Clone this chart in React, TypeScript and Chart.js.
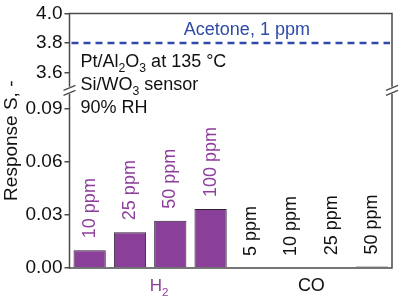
import React, { useEffect, useRef } from "react";
import { Chart, registerables, LinearScale } from "chart.js";

// ---- data ----
const categories = ["10 ppm", "25 ppm", "50 ppm", "100 ppm", "5 ppm", "10 ppm", "25 ppm", "50 ppm"];
const groups = ["H2", "H2", "H2", "H2", "CO", "CO", "CO", "CO"];
const responses = [0.0101, 0.0203, 0.0268, 0.0334, 0.0, 0.0, 0.0004, 0.0008];
const acetoneValue = [3.8];
const yTicks = [0, 0.03, 0.06, 0.09, 3.6, 3.8, 4.0];
const yTickLabels = ["0.00", "0.03", "0.06", "0.09", "3.6", "3.8", "4.0"];
// axis break: lower segment 0..LOW_MAX, upper segment HIGH_MIN..HIGH_MAX
const LOW_MAX = 0.1006;
const HIGH_MIN = 3.48;
const HIGH_MAX = 4.0;
const LOW_FRAC = 180 / 258;

const PURPLE = "#8a3f98";
const PURPLE_TXT = "#8e3f9c";
const BLUE = "#2f4aa8";
const AXIS = "#4a4a4a";
const FONT = "'Liberation Sans', Arial, sans-serif";

function toV(v: number): number {
  if (v <= LOW_MAX) return (v / LOW_MAX) * LOW_FRAC;
  return LOW_FRAC + ((v - HIGH_MIN) / (HIGH_MAX - HIGH_MIN)) * (1 - LOW_FRAC);
}
function fromV(x: number): number {
  if (x <= LOW_FRAC) return (x / LOW_FRAC) * LOW_MAX;
  return HIGH_MIN + ((x - LOW_FRAC) / (1 - LOW_FRAC)) * (HIGH_MAX - HIGH_MIN);
}

class BrokenScale extends LinearScale {
  static id = "broken";
  static defaults = (LinearScale as any).defaults;
  getPixelForValue(value: number) {
    return super.getPixelForValue(toV(value));
  }
  getValueForPixel(pixel: number) {
    return fromV(super.getValueForPixel(pixel) as number);
  }
}

Chart.register(...registerables, BrokenScale as any);

type Seg = { t: string; sub?: boolean };
function drawRich(ctx: CanvasRenderingContext2D, segs: Seg[], x: number, y: number, size: number, align: "left" | "center" = "left") {
  const measure = (s: Seg) => {
    ctx.font = `${s.sub ? size * 0.68 : size}px ${FONT}`;
    return ctx.measureText(s.t).width;
  };
  let total = 0;
  segs.forEach((s) => (total += measure(s)));
  let cx = align === "center" ? x - total / 2 : x;
  ctx.textAlign = "left";
  ctx.textBaseline = "alphabetic";
  segs.forEach((s) => {
    const w = measure(s);
    ctx.fillText(s.t, cx, s.sub ? y + size * 0.28 : y);
    cx += w;
  });
}

const framePlugin = {
  id: "frame",
  afterDraw(chart: any) {
    const { ctx, chartArea } = chart;
    const y = chart.scales.y;
    const x = chart.scales.x;
    const { left, right, top, bottom } = chartArea;
    const breakY = y.getPixelForValue(LOW_MAX);
    ctx.save();
    // frame with breaks
    ctx.strokeStyle = AXIS;
    ctx.lineWidth = 1.5;
    ctx.beginPath();
    ctx.moveTo(left, breakY + 3.5);
    ctx.lineTo(left, bottom);
    ctx.lineTo(right, bottom);
    ctx.lineTo(right, breakY + 3.5);
    ctx.moveTo(right, breakY - 3.5);
    ctx.lineTo(right, top);
    ctx.lineTo(left, top);
    ctx.lineTo(left, breakY - 3.5);
    ctx.stroke();
    // break marks
    ctx.lineWidth = 1.2;
    [left, right].forEach((bx) => {
      [-2.5, 2.5].forEach((dy) => {
        ctx.beginPath();
        ctx.moveTo(bx - 6, breakY + dy + 2.5);
        ctx.lineTo(bx + 6, breakY + dy - 2.5);
        ctx.stroke();
      });
    });
    // acetone dashed line
    const ay = y.getPixelForValue(acetoneValue[0]);
    ctx.strokeStyle = BLUE;
    ctx.lineWidth = 2.5;
    ctx.setLineDash([7, 5]);
    ctx.beginPath();
    ctx.moveTo(left + 2, ay);
    ctx.lineTo(right - 2, ay);
    ctx.stroke();
    ctx.setLineDash([]);
    ctx.fillStyle = BLUE;
    ctx.font = `18px ${FONT}`;
    ctx.textAlign = "center";
    ctx.textBaseline = "alphabetic";
    ctx.fillText("Acetone, 1 ppm", left + (right - left) * 0.55, ay - 8);

    // conditions text
    ctx.fillStyle = "#111";
    const tx = left + 11;
    drawRich(ctx, [{ t: "Pt/Al" }, { t: "2", sub: true }, { t: "O" }, { t: "3", sub: true }, { t: " at 135 °C" }], tx, 67, 18);
    drawRich(ctx, [{ t: "Si/WO" }, { t: "3", sub: true }, { t: " sensor" }], tx, 90, 18);
    drawRich(ctx, [{ t: "90% RH" }], tx, 113, 18);

    // bar labels (rotated)
    const meta = chart.getDatasetMeta(0);
    meta.data.forEach((bar: any, i: number) => {
      ctx.save();
      ctx.translate(bar.x, Math.min(bar.y, bottom) - 12);
      ctx.rotate(-Math.PI / 2);
      ctx.fillStyle = groups[i] === "H2" ? PURPLE_TXT : "#111";
      ctx.font = `18px ${FONT}`;
      ctx.textAlign = "left";
      ctx.textBaseline = "middle";
      ctx.fillText(categories[i], 0, 0);
      ctx.restore();
    });

    // group labels
    const gH = (x.getPixelForValue(1) + x.getPixelForValue(2)) / 2;
    const gC = (x.getPixelForValue(5) + x.getPixelForValue(6)) / 2;
    ctx.fillStyle = PURPLE_TXT;
    drawRich(ctx, [{ t: "H" }, { t: "2", sub: true }], gH + 9, 291, 17, "center");
    ctx.fillStyle = "#111";
    drawRich(ctx, [{ t: "CO" }], gC, 291, 18, "center");
    ctx.restore();
  },
};

export default function App() {
  const ref = useRef<HTMLCanvasElement>(null);
  useEffect(() => {
    const chart = new Chart(ref.current!, {
      type: "bar",
      data: {
        labels: categories,
        datasets: [
          {
            data: responses,
            backgroundColor: PURPLE,
            borderColor: "#2e2330",
            borderWidth: 1,
            barPercentage: 0.8,
            categoryPercentage: 1,
          },
        ],
      },
      options: {
        animation: false,
        responsive: false,
        devicePixelRatio: 1,
        layout: { padding: { top: 10, right: 8, left: 0, bottom: 0 } },
        plugins: { legend: { display: false }, tooltip: { enabled: false } },
        scales: {
          x: {
            type: "category",
            grid: { display: false },
            border: { display: false },
            ticks: { display: false },
            afterFit: (s: any) => {
              s.height = 30;
            },
          },
          y: {
            type: "broken" as any,
            min: 0,
            max: 1,
            afterBuildTicks: (s: any) => {
              s.ticks = yTicks.map((v) => ({ value: v }));
            },
            afterFit: (s: any) => {
              s.width = 69.5;
            },
            grid: { drawOnChartArea: false, drawTicks: true, tickLength: 5, tickColor: AXIS, lineWidth: 1.5 },
            border: { display: false },
            ticks: {
              padding: 2,
              color: "#111",
              font: { family: FONT, size: 19 },
              callback: (_v: any, i: number) => yTickLabels[i],
            },
            title: {
              display: true,
              text: "Response S, -",
              color: "#111",
              font: { family: FONT, size: 19 },
              padding: 0,
            },
          },
        } as any,
      },
      plugins: [framePlugin],
    });
    return () => chart.destroy();
  }, []);
  return (
    <div style={{ position: "fixed", left: 0, top: 0, width: 400, height: 298 }}>
      <canvas ref={ref} width={400} height={298} style={{ width: 400, height: 298 }} />
    </div>
  );
}
